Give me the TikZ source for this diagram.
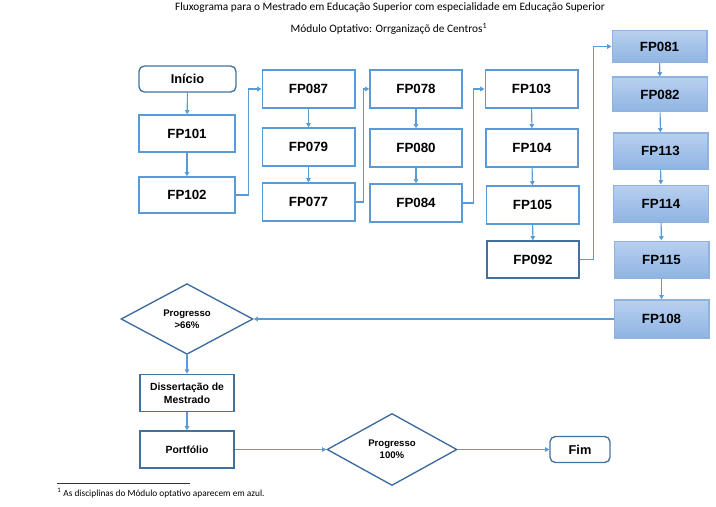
\documentclass[tikz,border=0pt]{standalone}
\usepackage{fontspec}
\setmainfont{Carlito}
\newfontfamily\arialf{Liberation Sans}
\usetikzlibrary{shapes.geometric,arrows.meta}
\definecolor{boxblue}{HTML}{5B9BD5}
\definecolor{arrblue}{HTML}{5B9BD5}
\definecolor{darkblue}{HTML}{41719C}
\definecolor{diamblue}{HTML}{3C6A9E}
\definecolor{gradtop}{HTML}{B8D0EE}
\definecolor{gradbot}{HTML}{8FB4E3}
\definecolor{gradline}{HTML}{8FB2DE}
\tikzset{
  fpbox/.style={draw=boxblue, line width=1pt, inner sep=0pt, font=\arialf\bfseries\fontsize{10}{12}\selectfont,
    minimum width=69.5pt, minimum height=28.5pt},
  darkbox/.style={fpbox, draw=darkblue},
  optbox/.style={fpbox, draw=gradline, top color=gradtop, bottom color=gradbot, minimum width=71pt, minimum height=27.5pt},
  termbox/.style={draw=darkblue, line width=1pt, rounded corners=4pt, inner sep=0pt,
    font=\arialf\bfseries\fontsize{9.6}{12}\selectfont},
  decis/.style={diamond, draw=diamblue, line width=1pt, inner sep=0pt, align=center,
    font=\arialf\bfseries\fontsize{7.2}{8.8}\selectfont, minimum width=99pt, minimum height=53pt},
  lowbox/.style={draw=darkblue, line width=1pt, inner sep=0pt, align=center,
    font=\arialf\bfseries\fontsize{7.8}{9.6}\selectfont, minimum width=70.5pt, minimum height=28pt},
  arr/.style={draw=arrblue, line width=0.8pt, -{Triangle[length=3.2pt,width=3.4pt]}},
}
\begin{document}
\begin{tikzpicture}[x=0.75pt,y=-0.75pt]
\useasboundingbox (0,0) rectangle (716,506);
% titles
\node[font=\fontsize{8.5}{10}\selectfont] (t1) at (390,8) {Fluxograma para o Mestrado em Educação Superior com especialidade em Educação Superior};
\node[font=\fontsize{8.5}{10}\selectfont] (t2) at (389,29) {Módulo Optativo: Orrganizaçõ de Centros\textsuperscript{1}};
% column 1
\node[termbox, minimum width=72.75pt, minimum height=19.5pt] (inicio) at (187.5,79) {Início};
\node[fpbox, minimum width=72pt, minimum height=27.75pt] (fp101) at (187,133.5) {FP101};
\node[fpbox, minimum width=72pt, minimum height=27pt] (fp102) at (187,195) {FP102};
% column 2
\node[fpbox] (fp087) at (308.5,89) {FP087};
\node[fpbox] (fp079) at (308.5,147) {FP079};
\node[fpbox] (fp077) at (308.5,202) {FP077};
% column 3
\node[fpbox, minimum width=69pt] (fp078) at (416,89) {FP078};
\node[fpbox, minimum width=69pt] (fp080) at (416,148) {FP080};
\node[fpbox, minimum width=69pt] (fp084) at (416,203) {FP084};
% column 4
\node[fpbox] (fp103) at (531.5,89) {FP103};
\node[fpbox, minimum width=69pt] (fp104) at (532,148) {FP104};
\node[fpbox] (fp105) at (532.5,205) {FP105};
\node[darkbox, minimum width=69pt, minimum height=27.75pt] (fp092) at (533,259.5) {FP092};
% optional column
\node[optbox, minimum height=24pt] (fp081) at (659.5,46.5) {FP081};
\node[optbox, minimum height=26pt] (fp082) at (660,94.5) {FP082};
\node[optbox, minimum height=27pt] (fp113) at (660.5,151) {FP113};
\node[optbox] (fp114) at (661,203.5) {FP114};
\node[optbox] (fp115) at (661.5,259.5) {FP115};
\node[optbox, minimum height=28.5pt] (fp108) at (661.5,319) {FP108};
% lower part
\node[decis] (d1) at (187,319) {Progresso\\>66\%};
\node[lowbox] (diss) at (187,393) {Dissertação de\\Mestrado};
\node[lowbox, minimum height=27.75pt] (port) at (187,449.5) {Portfólio};
\node[decis, minimum width=97.5pt, minimum height=54pt] (d2) at (392,449.5) {Progresso\\100\%};
\node[termbox, minimum width=45pt, minimum height=19.5pt] (fim) at (580,449.5) {Fim};
% footnote
\coordinate (fl1) at (57,483);
\coordinate (fl2) at (190,483);
\draw[line width=0.6pt, black!80] (fl1) -- (fl2);
\node[anchor=west, font=\fontsize{7}{8}\selectfont, inner sep=0pt] (fn) at (57,493) {\textsuperscript{1} As disciplinas do Módulo optativo aparecem em azul.};
% connectors
\draw[arr] (inicio) -- (fp101);
\draw[arr] (fp101) -- (fp102);
\draw[arr] (fp102.east) -- ++(13,0) |- (fp087.west);
\draw[arr] (fp087) -- (fp079);
\draw[arr] (fp079) -- (fp077);
\draw[arr] (fp077.east) -- ++(8,0) |- (fp078.west);
\draw[arr] (fp078) -- (fp080);
\draw[arr] (fp080) -- (fp084);
\draw[arr] (fp084.east) -- ++(11,0) |- (fp103.west);
\draw[arr] (fp103) -- (fp104);
\draw[arr] (fp104) -- (fp105);
\draw[arr] (fp105) -- (fp092);
\draw[arr] (fp092.east) -- ++(14,0) |- (fp081.west);
\draw[arr] (fp081) -- (fp082);
\draw[arr] (fp082) -- (fp113);
\draw[arr] (fp113) -- (fp114);
\draw[arr] (fp114) -- (fp115);
\draw[arr] (fp115) -- (fp108);
\draw[arr] (fp108.west) -- (d1.east);
\draw[arr] (d1) -- (diss);
\draw[arr] (diss) -- (port);
\draw[arr] (port.east) -- (d2.west);
\draw[arr] (d2.east) -- (fim.west);
\end{tikzpicture}
\end{document}
